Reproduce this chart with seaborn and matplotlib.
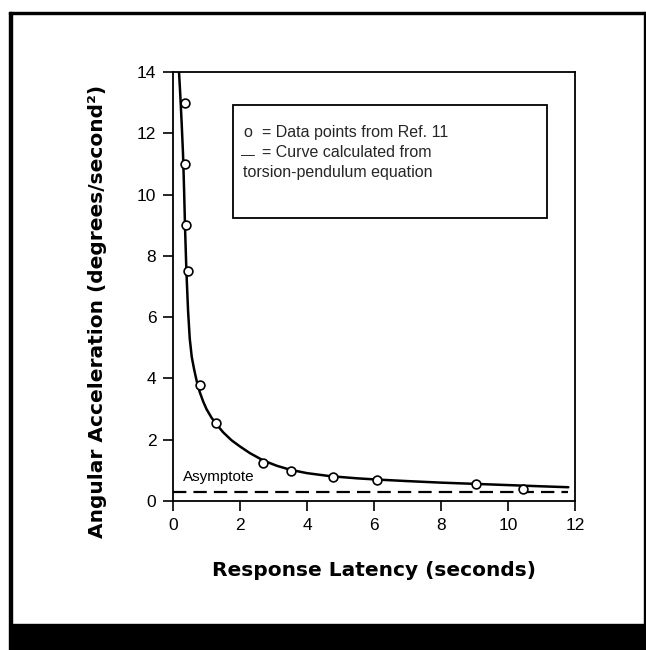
import matplotlib
matplotlib.use("Agg")
import matplotlib.pyplot as plt
import seaborn as sns
import pandas as pd
from matplotlib.patches import Rectangle

# ---------------- data ----------------
data_latency = [0.36, 0.37, 0.40, 0.45, 0.80, 1.28, 2.70, 3.53, 4.79, 6.08, 9.05, 10.45]
data_accel = [13.0, 11.0, 9.0, 7.5, 3.8, 2.55, 1.24, 0.97, 0.80, 0.70, 0.56, 0.40]

curve_latency = [0.18, 0.22, 0.26, 0.30, 0.33, 0.36, 0.40, 0.45, 0.50, 0.56, 0.63,
                 0.70, 0.80, 0.90, 1.0, 1.15, 1.3, 1.5, 1.75, 2.0, 2.3, 2.7, 3.1,
                 3.5, 4.0, 4.7, 5.5, 6.1, 7.0, 8.0, 9.0, 10.0, 11.0, 11.8]
curve_accel = [14.0, 13.2, 12.3, 11.3, 10.2, 8.9, 7.5, 6.2, 5.3, 4.7, 4.3,
               3.95, 3.55, 3.25, 3.0, 2.72, 2.5, 2.24, 1.98, 1.78, 1.56, 1.32, 1.15,
               1.02, 0.91, 0.81, 0.74, 0.70, 0.65, 0.60, 0.56, 0.52, 0.48, 0.45]

asymptote_latency = [0.0, 11.8]
asymptote_accel = [0.3, 0.3]

x_ticks = [0, 2, 4, 6, 8, 10, 12]
y_ticks = [0, 2, 4, 6, 8, 10, 12, 14]

x_label = "Response Latency (seconds)"
y_label = "Angular Acceleration (degrees/second\u00b2)"
legend_lines = ["= Data points from Ref. 11", "= Curve calculated from",
                "torsion-pendulum equation"]
asymptote_label = "Asymptote"

# ---------------- style ----------------
sns.set_theme(style="ticks")
plt.rcParams["font.family"] = ["Liberation Sans", "DejaVu Sans"]

fig = plt.figure(figsize=(6.46, 6.5), dpi=100)
ax = fig.add_axes([0.2678, 0.2292, 0.6223, 0.66])

pts = pd.DataFrame({"latency": data_latency, "accel": data_accel})
crv = pd.DataFrame({"latency": curve_latency, "accel": curve_accel})
asy = pd.DataFrame({"latency": asymptote_latency, "accel": asymptote_accel})

sns.lineplot(data=asy, x="latency", y="accel", ax=ax, color="black",
             linewidth=1.6, linestyle=(0, (6, 3.2)), sort=False, estimator=None)
sns.lineplot(data=crv, x="latency", y="accel", ax=ax, color="black",
             linewidth=1.8, sort=False, estimator=None)
sns.scatterplot(data=pts, x="latency", y="accel", ax=ax, s=40,
                facecolors="white", edgecolors="black", linewidth=1.2, zorder=3)

ax.set_xlim(0, 12)
ax.set_ylim(0, 14)
ax.set_xticks(x_ticks)
ax.set_yticks(y_ticks)
ax.set_xticklabels([str(t) for t in x_ticks])
ax.set_yticklabels([str(t) for t in y_ticks])
ax.tick_params(direction="out", length=7, width=1.2, color="black",
               labelsize=12.5, labelcolor="black", pad=5)

for s in ax.spines.values():
    s.set_visible(True)
    s.set_color("black")
    s.set_linewidth(1.3)

ax.set_xlabel(x_label, fontsize=14.5, fontweight="bold",
              family=["DejaVu Sans"], color="black")
ax.set_ylabel(y_label, fontsize=14.5, fontweight="bold",
              family=["DejaVu Sans"], color="black")
ax.xaxis.set_label_coords(0.5, -0.14)
ax.xaxis.label.set_va("top")
ax.yaxis.set_label_coords(-0.165, 0.443)

# Asymptote label
ax.text(0.3, 0.55, asymptote_label, fontsize=11, color="black",
        ha="left", va="bottom")

# Legend box (manual)
ax.add_patch(Rectangle((0.15, 0.66), 0.78, 0.263, transform=ax.transAxes,
                       fill=False, edgecolor="black", linewidth=1.3, zorder=4))
ax.text(0.187, 0.858, "o", transform=ax.transAxes, fontsize=11.5,
        ha="center", va="center")
ax.text(0.187, 0.806, "\u2014", transform=ax.transAxes, fontsize=10,
        ha="center", va="center")
ax.text(0.222, 0.858, legend_lines[0], transform=ax.transAxes, fontsize=11.5,
        ha="left", va="center")
ax.text(0.222, 0.812, legend_lines[1], transform=ax.transAxes, fontsize=11.5,
        ha="left", va="center")
ax.text(0.175, 0.765, legend_lines[2], transform=ax.transAxes, fontsize=11.5,
        ha="left", va="center")

# Outer frame of the scanned page
W, H = 646.0, 650.0
band = 26.0
fig.patches.append(Rectangle((9 / W, band / H), 2.5 / W, (H - band - 12) / H,
                             transform=fig.transFigure, color="black"))
fig.patches.append(Rectangle((9 / W, 1 - 14 / H), (W - 9) / W, 2.2 / H,
                             transform=fig.transFigure, color="black"))
fig.patches.append(Rectangle((1 - 2.0 / W, band / H), 1.2 / W, (H - band - 12) / H,
                             transform=fig.transFigure, color="black"))
fig.patches.append(Rectangle((9 / W, 0), (W - 9) / W, band / H,
                             transform=fig.transFigure, color="black"))

fig.savefig("out.png", dpi=100, facecolor="white")
